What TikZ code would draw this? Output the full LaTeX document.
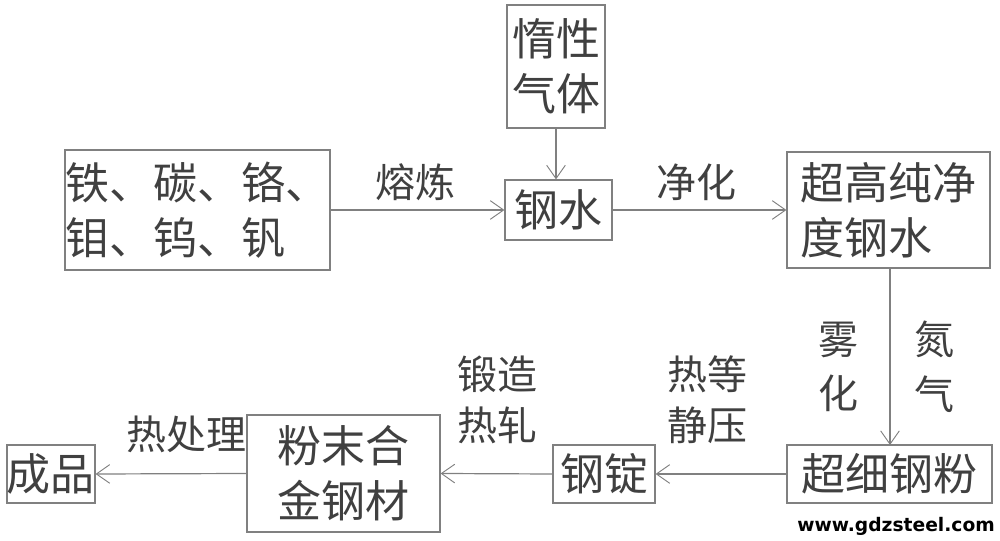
\documentclass[tikz,border=0pt]{standalone}
\usepackage{fontspec}
\newfontfamily\cjk{Noto Sans CJK SC}
\newfontfamily\webfont{DejaVu Sans}
\usetikzlibrary{arrows.meta}
\begin{document}
\begin{tikzpicture}[x=0.75pt,y=-0.75pt,
  box/.style={draw=black!50,line width=0.9pt,inner sep=0pt,text=black!75,
    font=\cjk\fontsize{33}{41}\selectfont,align=center},
  lab/.style={text=black!75,font=\cjk\fontsize{30}{38}\selectfont,align=center,inner sep=0pt},
  conn/.style={draw=black!50,line width=0.9pt,-{Straight Barb[length=10pt,width=14pt,line width=0.7pt]}}]
\useasboundingbox (0,0) rectangle (1000,541);
\node[box,minimum width=98*0.75pt,minimum height=123*0.75pt] (inert) at (556,66.5) {惰性\\气体};
\node[box,minimum width=107*0.75pt,minimum height=60*0.75pt] (steel) at (558.5,210) {钢水};
\node[box,minimum width=265*0.75pt,minimum height=120*0.75pt,align=left] (raw) at (197.5,210) {铁、碳、铬、\\钼、钨、钒};
\node[box,minimum width=203*0.75pt,minimum height=116*0.75pt,align=left] (pure) at (888.5,210) {超高纯净\\度钢水};
\node[box,minimum width=205*0.75pt,minimum height=58*0.75pt] (fine) at (889.5,474) {超细钢粉};
\node[box,minimum width=102*0.75pt,minimum height=58*0.75pt] (ingot) at (604,474) {钢锭};
\node[box,minimum width=193*0.75pt,minimum height=117*0.75pt] (alloy) at (343.5,473.5) {粉末合\\金钢材};
\node[box,minimum width=88*0.75pt,minimum height=58*0.75pt] (prod) at (51,474) {成品};
\draw[conn] (raw.east) -- (steel.west);
\draw[conn] (inert.south) -- (inert.south |- steel.north);
\draw[conn] (steel.east) -- (pure.west);
\draw[conn] (890,268) -- (890,445);
\draw[conn] (fine.west) -- (ingot.east);
\draw[conn] (ingot.west) -- (alloy.east);
\draw[conn] (alloy.west) -- (prod.east);
\node[lab] (l1) at (415,182) {熔炼};
\node[lab] (l2) at (696,182) {净化};
\node[lab,font=\cjk\fontsize{30}{41}\selectfont] (l3) at (838,367) {雾\\化};
\node[lab,font=\cjk\fontsize{30}{41}\selectfont] (l4) at (934,367) {氮\\气};
\node[lab] (l5) at (707,400) {热等\\静压};
\node[lab] (l6) at (497,400) {锻造\\热轧};
\node[lab] (l7) at (186,434) {热处理};
\node[font=\webfont\bfseries\fontsize{14}{16}\selectfont,inner sep=0pt,anchor=east] (web) at (995,526) {www.gdzsteel.com};
\end{tikzpicture}
\end{document}
